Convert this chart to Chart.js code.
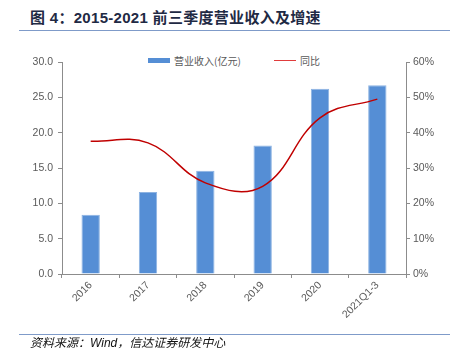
<!DOCTYPE html>
<html>
<head>
<meta charset="utf-8">
<script src="https://cdn.jsdelivr.net/npm/chart.js@4.4.0/dist/chart.umd.min.js"></script>
<style>
  body { margin:0; background:#fff; width:456px; height:363px; position:relative; overflow:hidden;
         font-family:"Liberation Sans", Arial, "Noto Sans CJK SC", sans-serif; }
  #title { position:absolute; left:30px; top:6px; font-size:15px; font-weight:bold; color:#1f2a44;
           font-family:"Liberation Sans", Arial, "Noto Sans CJK SC", sans-serif; letter-spacing:0.3px; }
  .rule { position:absolute; left:19px; width:431px; height:0; border-top:1.5px solid #7f9bc9; }
  #foot { position:absolute; left:30px; top:336px; font-size:12px; line-height:14px; font-style:italic; color:#111;
          font-family:"Liberation Sans", Arial, "Noto Sans CJK SC", sans-serif; }
  #legend { position:absolute; top:53px; left:0; width:456px; font-size:10px; color:#595959;
            font-family:"Noto Sans CJK SC", sans-serif; }
  .lg { position:absolute; display:flex; align-items:center; }
  .sw { display:inline-block; margin-right:4px; }
  #wrap { position:absolute; left:0; top:40px; width:456px; height:296px; }
</style>
</head>
<body>
<div id="title">图 4：2015-2021 前三季度营业收入及增速</div>
<div class="rule" style="top:30px"></div>
<div id="legend"></div>
<div id="wrap"><canvas id="chart"></canvas></div>
<div class="rule" style="top:334px"></div>
<div id="foot">资料来源：Wind，信达证券研发中心</div>
<script>
const categories = ["2016", "2017", "2018", "2019", "2020", "2021Q1-3"]
const revenue = [8.4, 11.6, 14.6, 18.2, 26.2, 26.7]
const yoy = [37.6, 37.1, 25.8, 24.8, 44.2, 49.5]
const leftTicks = [0, 5, 10, 15, 20, 25, 30]
const rightTicks = [0, 10, 20, 30, 40, 50, 60]
const seriesNames = ["营业收入(亿元)", "同比"]

const barColor = "#558ed5"
const lineColor = "#c00000"
const axisColor = "#8c8c8c"
const tickFont = { family: "'Liberation Sans', Arial, sans-serif", size: 10.5 }

// html legend
const legend = document.getElementById("legend")
legend.innerHTML =
    '<div class="lg" style="left:148px"><span class="sw" style="width:22px;height:5px;background:' + barColor + '"></span>' + seriesNames[0] + '</div>' +
    '<div class="lg" style="left:274px"><span class="sw" style="width:22px;height:0;border-top:1.5px solid #e03c3c"></span>' + seriesNames[1] + '</div>'

new Chart(document.getElementById("chart"), {
    data: {
        labels: categories,
        datasets: [
            {
                type: "line",
                label: seriesNames[1],
                data: yoy,
                yAxisID: "y1",
                borderColor: lineColor,
                borderWidth: 1.5,
                pointRadius: 0,
                tension: 0.4,
                order: 0,
            },
            {
                type: "bar",
                label: seriesNames[0],
                data: revenue,
                yAxisID: "y",
                backgroundColor: barColor,
                borderColor: "#8db3e2",
                borderWidth: { top: 1, left: 1, right: 1, bottom: 0 },
                categoryPercentage: 1,
                barPercentage: 0.32,
                order: 1,
            },
        ],
    },
    options: {
        responsive: true,
        maintainAspectRatio: false,
        animation: false,
        layout: { padding: { top: 22, left: 0, right: 0, bottom: 0 } },
        plugins: { legend: { display: false }, tooltip: { enabled: false } },
        scales: {
            x: {
                offset: true,
                grid: { drawOnChartArea: false, drawTicks: true, tickLength: 4, color: axisColor, offset: true },
                border: { color: axisColor },
                ticks: { color: "#595959", font: tickFont, maxRotation: 45, minRotation: 45, padding: 1 },
                afterFit: (s) => { s.height = 62 },
            },
            y: {
                position: "left",
                min: 0, max: 30,
                afterBuildTicks: (s) => { s.ticks = leftTicks.map(v => ({ value: v })) },
                grid: { drawOnChartArea: false, drawTicks: true, tickLength: 4, color: axisColor },
                border: { color: axisColor },
                ticks: { color: "#595959", font: tickFont, padding: 5, callback: (v) => v.toFixed(1) },
                afterFit: (s) => { s.width = 62 },
            },
            y1: {
                position: "right",
                min: 0, max: 60,
                afterBuildTicks: (s) => { s.ticks = rightTicks.map(v => ({ value: v })) },
                grid: { drawOnChartArea: false, drawTicks: true, tickLength: 4, color: axisColor },
                border: { color: axisColor },
                ticks: { color: "#595959", font: tickFont, padding: 3, callback: (v) => v + "%" },
                afterFit: (s) => { s.width = 50 },
            },
        },
    },
})
</script>
</body>
</html>
